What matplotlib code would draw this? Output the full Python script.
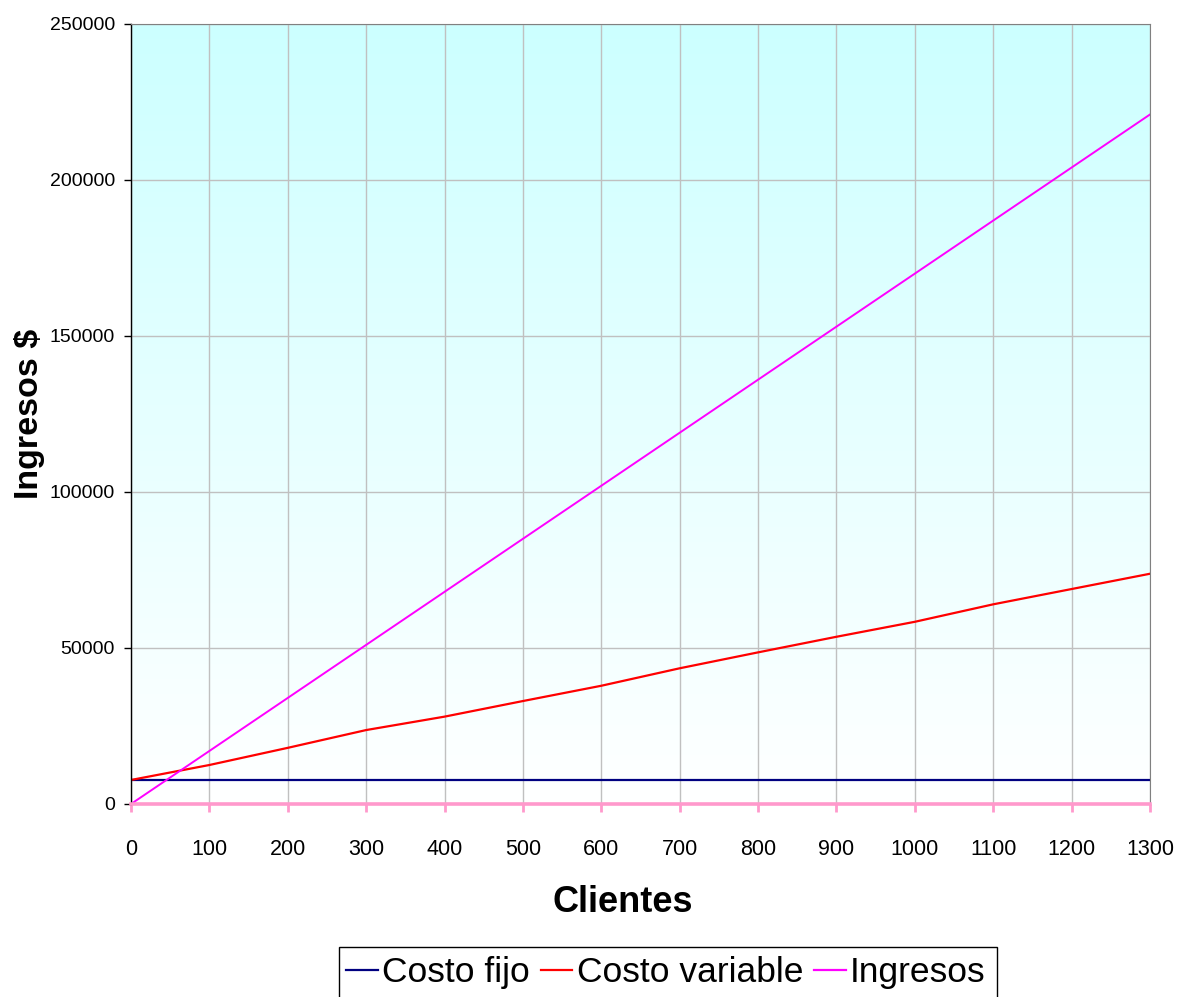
import numpy as np
import matplotlib.pyplot as plt
from matplotlib.lines import Line2D
from matplotlib.patches import Rectangle
from matplotlib.colors import LinearSegmentedColormap

# clientes atendidos
clientes = [0, 100, 200, 300, 400, 500, 600, 700, 800, 900, 1000, 1100, 1200, 1300]

# costos e ingresos ($)
costo_fijo = [7700] * len(clientes)
costo_variable = [7700, 12500, 18000, 23700, 28000, 33000, 37900,
                  43500, 48600, 53600, 58400, 64000, 68900, 73800]
ingresos = [0, 17000, 34000, 51000, 68000, 85000, 102000,
            119000, 136000, 153000, 170000, 187000, 204000, 221000]

series = ['Costo fijo', 'Costo variable', 'Ingresos']
colores = ['#000080', '#FF0000', '#FF00FF']

plt.rcParams['font.family'] = ['Liberation Sans', 'DejaVu Sans']

W, H = 1178, 997
fig = plt.figure(figsize=(W / 100, H / 100), dpi=100)
ax = fig.add_axes([131/W, 1 - 804/H, 1019/W, 780/H])

# fondo degradado cian -> blanco
grad = np.linspace(0, 1, 256).reshape(-1, 1)
cmap = LinearSegmentedColormap.from_list('fondo', ['#FFFFFF', '#CCFFFF'])
ax.imshow(grad, aspect='auto', cmap=cmap, origin='lower',
          extent=[0, 1, 0, 1], transform=ax.transAxes, zorder=0)

ax.plot(clientes, costo_fijo, color=colores[0], lw=1.6, zorder=3)
ax.plot(clientes, costo_variable, color=colores[1], lw=1.6, zorder=3)
ax.plot(clientes, ingresos, color=colores[2], lw=1.4, zorder=3)

ax.set_xlim(0, 1300)
ax.set_ylim(0, 250000)
ax.set_xticks(np.arange(0, 1301, 100))
ax.set_yticks(np.arange(0, 250001, 50000))
ax.grid(True, color='#C0C0C0', lw=1)
for gl in ax.get_xgridlines() + ax.get_ygridlines():
    gl.set_zorder(1)

for lado in ['left', 'top', 'right', 'bottom']:
    ax.spines[lado].set_zorder(5)
ax.spines['left'].set_color('black')
ax.spines['left'].set_linewidth(1)
ax.spines['top'].set_color('#808080')
ax.spines['right'].set_color('#808080')
ax.spines['bottom'].set_color('#FF99CC')
ax.spines['bottom'].set_linewidth(2.6)

ax.tick_params(axis='x', colors='#FF99CC', width=2, length=6, direction='out',
               labelcolor='black', labelsize=15.5, pad=19)
ax.tick_params(axis='y', color='black', width=1, length=5, direction='out',
               labelsize=14, pad=6.5)

ax.set_xlabel('Clientes', fontsize=26, fontweight='bold')
ax.xaxis.set_label_coords((623 - 131) / 1019, (804 - 903) / 780)
ax.xaxis.label.set_va('center')
ax.set_ylabel('Ingresos $', fontsize=24.5, fontweight='bold')
ax.yaxis.set_label_coords((30 - 131) / 1019, 0.5)
ax.yaxis.label.set_va('center')

# leyenda abajo, el recuadro sigue por debajo del borde
handles = [Line2D([], [], color=c, lw=1.6) for c in colores]
leg = fig.legend(handles, series, loc='upper left', ncol=3,
                 bbox_to_anchor=(339/W, 1 - 949/H),
                 prop={'size': 25.5}, frameon=False,
                 handlelength=0.9, handletextpad=0.12, columnspacing=0.3,
                 borderpad=0.2, borderaxespad=0)
fig.patches.append(Rectangle((339/W, -0.02), (997 - 339)/W, 0.02 + (H - 947)/H,
                             transform=fig.transFigure, fill=False,
                             edgecolor='black', lw=1))

fig.savefig('out.png', dpi=100)
